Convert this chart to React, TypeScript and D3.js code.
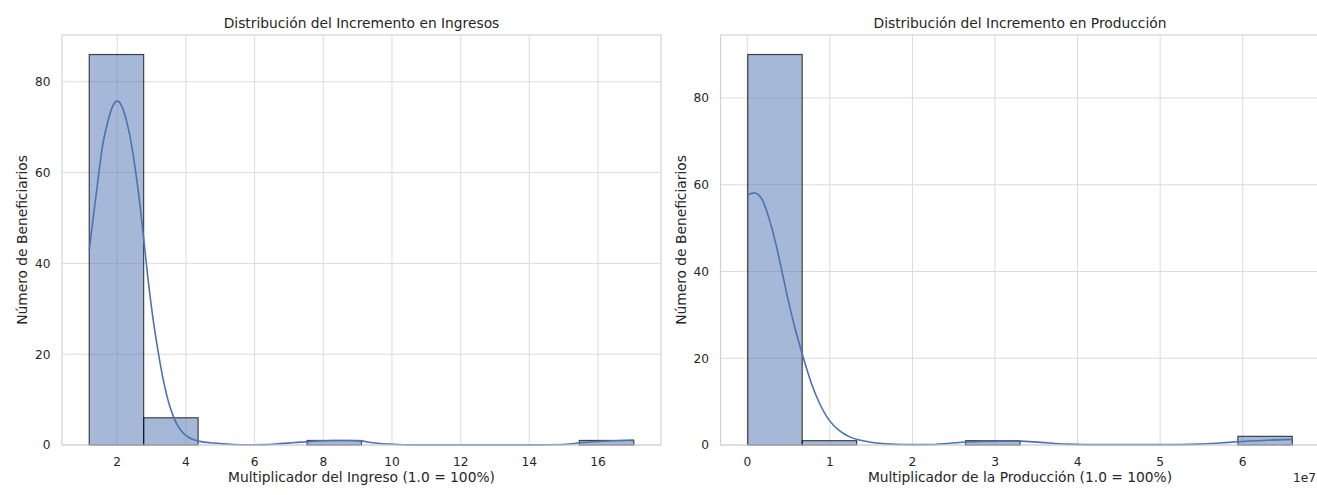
import React from "react";
import * as d3 from "d3";

// ---------- data ----------
const incomeBinEdges = [1.185, 2.77, 4.356, 5.941, 7.527, 9.112, 10.698, 12.283, 13.869, 15.454, 17.04];
const incomeCounts = [86, 6, 0, 0, 1, 0, 0, 0, 0, 1];
const incomeKdeX = [1.185, 1.3, 1.467, 1.555, 1.62, 1.69, 1.85, 2.0, 2.15, 2.3, 2.43, 2.55, 2.66, 2.77, 2.89, 3.03, 3.2, 3.35, 3.5, 3.64, 3.8, 3.93, 4.1, 4.25, 4.41, 4.7, 5.0, 5.4, 5.86, 6.3, 6.74, 7.1, 7.51, 7.9, 8.29, 8.7, 9.07, 9.45, 10.04, 10.6, 13.5, 14.6, 15.08, 15.47, 16.05, 16.5, 17.04];
const incomeKdeY = [42.9, 50.0, 60.0, 65.0, 67.8, 70.1, 74.3, 75.8, 74.3, 70.5, 65.5, 59.5, 53.0, 45.5, 37.0, 28.5, 20.2, 14.0, 9.3, 6.2, 3.8, 2.6, 1.6, 1.1, 0.8, 0.5, 0.33, 0.12, 0.05, 0.08, 0.3, 0.5, 0.73, 0.9, 1.0, 1.0, 0.9, 0.5, 0.15, 0.03, 0.02, 0.06, 0.15, 0.5, 0.8, 0.95, 1.1];
const incomeXTicks = [2, 4, 6, 8, 10, 12, 14, 16];

const productionBinEdges = [0.005, 0.665, 1.324, 1.984, 2.643, 3.303, 3.962, 4.622, 5.281, 5.941, 6.6]; // x 1e7
const productionCounts = [90, 1, 0, 0, 1, 0, 0, 0, 0, 2];
const productionKdeX = [0.005, 0.05, 0.09, 0.14, 0.19, 0.25, 0.3, 0.35, 0.42, 0.49, 0.57, 0.66, 0.72, 0.78, 0.87, 0.96, 1.06, 1.16, 1.26, 1.36, 1.48, 1.6, 1.75, 1.9, 2.05, 2.2, 2.45, 2.65, 3.06, 3.3, 3.55, 3.87, 4.3, 5.0, 5.48, 5.72, 5.93, 6.29, 6.6];
const productionKdeY = [57.6, 58.0, 58.1, 57.6, 56.2, 53.0, 49.8, 46.0, 40.0, 33.8, 27.5, 21.3, 17.5, 14.0, 9.8, 6.6, 4.2, 2.7, 1.7, 1.15, 0.7, 0.4, 0.2, 0.12, 0.08, 0.1, 0.4, 0.7, 0.9, 0.9, 0.6, 0.2, 0.08, 0.08, 0.2, 0.45, 0.75, 1.1, 1.3];
const productionXTicks = [0, 1, 2, 3, 4, 5, 6];

const countTicks = [0, 20, 40, 60, 80];

const titles = ["Distribución del Incremento en Ingresos", "Distribución del Incremento en Producción"];
const xLabels = ["Multiplicador del Ingreso (1.0 = 100%)", "Multiplicador de la Producción (1.0 = 100%)"];
const yLabel = "Número de Beneficiarios";

// ---------- styling ----------
const FONT = "'DejaVu Sans', sans-serif";
const TEXT = "#262626";
const GRID = "#dcdcdc";
const SPINE = "#d0d0d0";
const BLUE = "#4c72b0";
const TOP = 35;
const BOTTOM = 445;

type PanelProps = {
  left: number;
  right: number;
  edges: number[];
  counts: number[];
  kdeX: number[];
  kdeY: number[];
  xTicks: number[];
  title: string;
  xLabel: string;
  offsetText?: string;
};

function Panel({ left, right, edges, counts, kdeX, kdeY, xTicks, title, xLabel, offsetText }: PanelProps) {
  const lo = edges[0];
  const hi = edges[edges.length - 1];
  const pad = (hi - lo) * 0.05;
  const x = d3.scaleLinear().domain([lo - pad, hi + pad]).range([left, right]);
  const yMax = (d3.max(counts) as number) * 1.05;
  const y = d3.scaleLinear().domain([0, yMax]).range([BOTTOM, TOP]);

  const pts: [number, number][] = kdeX.map((v, i) => [v, kdeY[i]]);
  const line = d3
    .line<[number, number]>()
    .x((d) => x(d[0]))
    .y((d) => y(d[1]))
    .curve(d3.curveMonotoneX);

  const cx = (left + right) / 2;
  return (
    <g>
      {/* grid */}
      {xTicks.map((t) => (
        <line key={"gx" + t} x1={x(t)} x2={x(t)} y1={TOP} y2={BOTTOM} stroke={GRID} strokeWidth={1} />
      ))}
      {countTicks.map((t) => (
        <line key={"gy" + t} x1={left} x2={right} y1={y(t)} y2={y(t)} stroke={GRID} strokeWidth={1} />
      ))}
      {/* bars */}
      {counts.map((c, i) =>
        c > 0 ? (
          <rect
            key={"b" + i}
            x={x(edges[i])}
            y={y(c)}
            width={x(edges[i + 1]) - x(edges[i])}
            height={BOTTOM - y(c)}
            fill={BLUE}
            fillOpacity={0.5}
            stroke="#000"
            strokeOpacity={0.7}
            strokeWidth={1.2}
          />
        ) : null
      )}
      {/* kde */}
      <path d={line(pts) || ""} fill="none" stroke={BLUE} strokeWidth={1.6} />
      {/* spines */}
      <rect x={left} y={TOP} width={right - left} height={BOTTOM - TOP} fill="none" stroke={SPINE} strokeWidth={1.1} />
      {/* tick labels */}
      {xTicks.map((t) => (
        <text key={"tx" + t} x={x(t)} y={466} textAnchor="middle" fontSize={12.2} fill={TEXT} fontFamily={FONT}>
          {String(t)}
        </text>
      ))}
      {countTicks.map((t) => (
        <text key={"ty" + t} x={left - 11.5} y={y(t) + 4.4} textAnchor="end" fontSize={12.2} fill={TEXT} fontFamily={FONT}>
          {String(t)}
        </text>
      ))}
      {offsetText ? (
        <text x={1316} y={481.5} textAnchor="end" fontSize={12.2} fill={TEXT} fontFamily={FONT}>
          {offsetText}
        </text>
      ) : null}
      {/* labels */}
      <text x={cx} y={28} textAnchor="middle" fontSize={13.8} fill={TEXT} fontFamily={FONT}>
        {title}
      </text>
      <text x={cx} y={481.5} textAnchor="middle" fontSize={13.8} fill={TEXT} fontFamily={FONT}>
        {xLabel}
      </text>
      <text
        transform={`translate(${left - 35},${(TOP + BOTTOM) / 2}) rotate(-90)`}
        textAnchor="middle"
        fontSize={13.8}
        fill={TEXT}
        fontFamily={FONT}
      >
        {yLabel}
      </text>
    </g>
  );
}

export default function App() {
  return (
    <svg
      width={1317}
      height={495}
      style={{ position: "absolute", left: 0, top: 0, display: "block", background: "#fff" }}
    >
      <rect x={0} y={0} width={1317} height={495} fill="#fff" />
      <Panel
        left={62}
        right={661}
        edges={incomeBinEdges}
        counts={incomeCounts}
        kdeX={incomeKdeX}
        kdeY={incomeKdeY}
        xTicks={incomeXTicks}
        title={titles[0]}
        xLabel={xLabels[0]}
      />
      <Panel
        left={720.5}
        right={1319.5}
        edges={productionBinEdges}
        counts={productionCounts}
        kdeX={productionKdeX}
        kdeY={productionKdeY}
        xTicks={productionXTicks}
        title={titles[1]}
        xLabel={xLabels[1]}
        offsetText="1e7"
      />
    </svg>
  );
}
